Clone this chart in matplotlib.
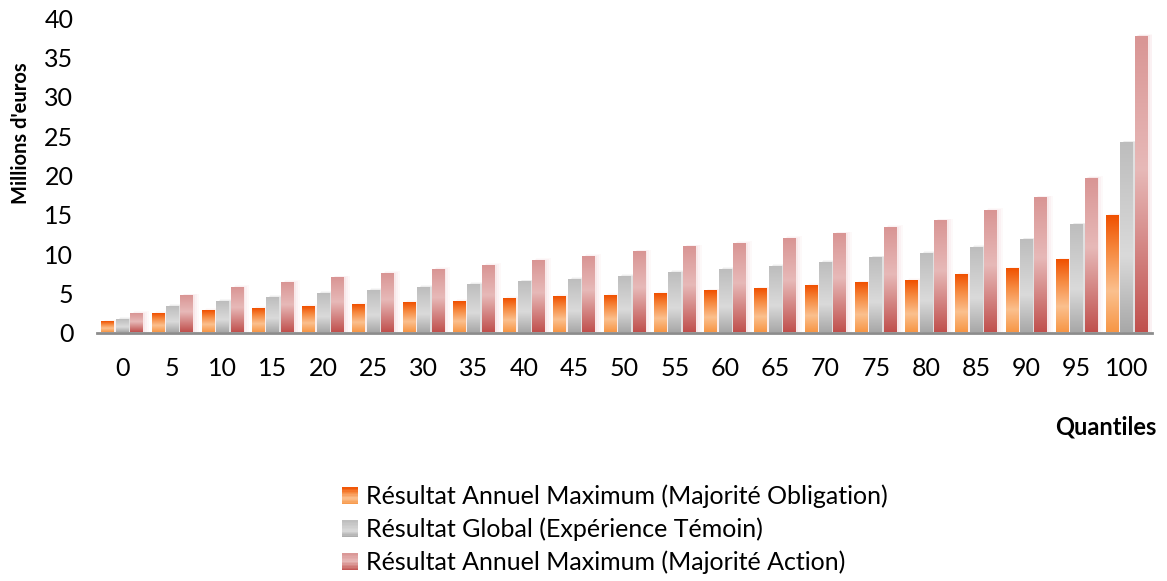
import numpy as np
import matplotlib
matplotlib.use("Agg")
import matplotlib.pyplot as plt
from matplotlib.colors import LinearSegmentedColormap
from matplotlib.patches import Rectangle
from matplotlib.legend_handler import HandlerBase

plt.rcParams["font.family"] = ["Lato", "DejaVu Sans"]

quantiles = ["0", "5", "10", "15", "20", "25", "30", "35", "40", "45", "50",
             "55", "60", "65", "70", "75", "80", "85", "90", "95", "100"]
obligation = [1.3, 2.35, 2.75, 3.0, 3.25, 3.5, 3.75, 3.9, 4.25, 4.5, 4.65,
              4.9, 5.25, 5.5, 5.9, 6.25, 6.6, 7.3, 8.05, 9.2, 14.9]
temoin = [1.6, 3.25, 3.9, 4.4, 4.9, 5.3, 5.65, 6.05, 6.4, 6.7, 7.05,
          7.55, 7.95, 8.35, 8.85, 9.45, 10.0, 10.75, 11.75, 13.65, 24.1]
action = [2.35, 4.6, 5.65, 6.3, 6.9, 7.45, 7.95, 8.45, 9.1, 9.6, 10.2,
          10.85, 11.25, 11.9, 12.5, 13.3, 14.15, 15.45, 17.1, 19.6, 37.7]
labels = ["Résultat Annuel Maximum (Majorité Obligation)",
          "Résultat Global (Expérience Témoin)",
          "Résultat Annuel Maximum (Majorité Action)"]

# gradients, bottom -> top
cmaps = [
    LinearSegmentedColormap.from_list("o", [(0, "#F79646"), (0.35, "#FBC08E"), (0.7, "#F6893F"), (1, "#F05000")]),
    LinearSegmentedColormap.from_list("g", [(0, "#A8A8A8"), (0.4, "#DADADA"), (1, "#BDBDBD")]),
    LinearSegmentedColormap.from_list("p", [(0, "#C0504D"), (0.55, "#E7B9B8"), (1, "#D99594")]),
]
shadow_colors = ["#F4B9B0", "#7F7F7F", "#E8A0A8"]

W, H = 1167, 581
fig = plt.figure(figsize=(W / 100, H / 100), dpi=100)
ax = fig.add_axes([97 / W, (H - 332.5) / H, 1055 / W, 314 / H])

grad = np.linspace(0, 1, 256).reshape(-1, 1)
x = np.arange(len(quantiles))
bw, step = 0.255, 0.287
for k, vals in enumerate([obligation, temoin, action]):
    off = (k - 1) * step
    for xi, v in zip(x, vals):
        x0 = xi + off - bw / 2
        # soft shadow
        for j, a in enumerate([0.11, 0.08, 0.06]):
            ax.add_patch(Rectangle((x0 + 0.04 + 0.02 * j, -0.1), bw + 0.02 * j,
                                   v + 0.25 + 0.1 * j, color=shadow_colors[k],
                                   alpha=a, lw=0, zorder=1))
        ax.imshow(grad, extent=[x0, x0 + bw, 0, v], aspect="auto", origin="lower",
                  cmap=cmaps[k], zorder=2)

ax.set_xlim(-0.5, len(quantiles) - 0.5)
ax.set_ylim(0, 40)
ax.set_yticks(range(0, 41, 5))
ax.set_xticks(x)
ax.set_xticklabels(quantiles)
for s in ["top", "right", "left"]:
    ax.spines[s].set_visible(False)
ax.spines["bottom"].set_color("#8C8C8C")
ax.spines["bottom"].set_linewidth(2)
ax.spines["bottom"].set_zorder(3)
ax.tick_params(axis="both", length=0, labelsize=18, colors="black")
ax.tick_params(axis="x", pad=18)
ax.tick_params(axis="y", pad=17)
ax.set_ylabel("Millions d'euros", fontsize=14.5, fontweight="bold")
ax.yaxis.set_label_coords(-66 / 1055, 0.635)

fig.text(1106 / W, 1 - 427 / H, "Quantiles", fontsize=17, fontweight="bold",
          ha="center", va="center")


class GradHandler(HandlerBase):
    def __init__(self, cmap):
        super().__init__()
        self.cmap = cmap

    def create_artists(self, legend, orig_handle, xd, yd, width, height, fontsize, trans):
        n = 12
        arts = []
        for i in range(n):
            r = Rectangle((xd, yd + height * i / n), width, height / n + 0.3,
                          color=self.cmap((i + 0.5) / n), lw=0, transform=trans)
            arts.append(r)
        return arts


handles = [Rectangle((0, 0), 1, 1) for _ in range(3)]
fig.legend(handles, labels, loc="center left", bbox_to_anchor=(319 / W, 1 - 529 / H),
           frameon=False, fontsize=18, handlelength=0.65, handleheight=0.65,
           handletextpad=0.35, labelspacing=0.38,
           handler_map={h: GradHandler(c) for h, c in zip(handles, cmaps)})

fig.savefig("out.png", dpi=100)
